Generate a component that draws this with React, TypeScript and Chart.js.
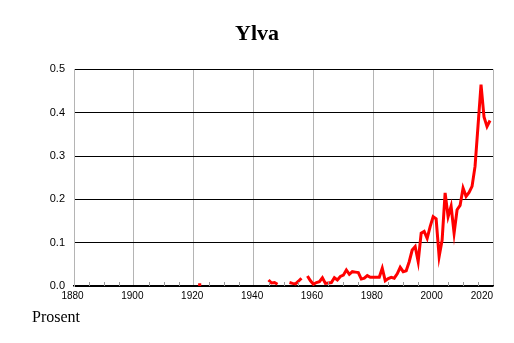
import { useEffect, useRef } from 'react';
import { Chart, registerables } from 'chart.js';

Chart.register(...registerables);

const chartTitle = 'Ylva';
const unitLabel = 'Prosent';

const years = [
  1922, 1923,
  1945, 1946, 1947, 1948, 1949, 1950, 1951, 1952, 1953, 1954, 1955, 1956, 1957, 1958, 1959,
  1960, 1961, 1962, 1963, 1964, 1965, 1966, 1967, 1968, 1969,
  1970, 1971, 1972, 1973, 1974, 1975, 1976, 1977, 1978, 1979,
  1980, 1981, 1982, 1983, 1984, 1985, 1986, 1987, 1988, 1989,
  1990, 1991, 1992, 1993, 1994, 1995, 1996, 1997, 1998, 1999,
  2000, 2001, 2002, 2003, 2004, 2005, 2006, 2007, 2008, 2009,
  2010, 2011, 2012, 2013, 2014, 2015, 2016, 2017, 2018, 2019,
];

const values: (number | null)[] = [
  0.003, null,
  0.014, 0.007, 0.008, 0.004, null, null, null, 0.008, 0.006, 0.005, 0.011, 0.018, null, 0.023, 0.012,
  0.004, 0.008, 0.010, 0.019, 0.006, 0.007, 0.008, 0.019, 0.014, 0.022,
  0.025, 0.037, 0.027, 0.033, 0.032, 0.031, 0.016, 0.018, 0.024, 0.020,
  0.020, 0.020, 0.020, 0.041, 0.012, 0.017, 0.020, 0.018, 0.028, 0.043,
  0.033, 0.035, 0.056, 0.083, 0.091, 0.056, 0.122, 0.126, 0.110, 0.137,
  0.160, 0.155, 0.068, 0.106, 0.215, 0.160, 0.184, 0.122, 0.176, 0.186,
  0.226, 0.207, 0.216, 0.230, 0.276, 0.370, 0.465, 0.390, 0.368, 0.382,
];

const xTickValues = [1880, 1900, 1920, 1940, 1960, 1980, 2000, 2020];
const yTickValues = [0, 0.1, 0.2, 0.3, 0.4, 0.5];
const minorStep = 5;

const overlay = {
  id: 'overlay',
  afterDraw(chart: any) {
    const { ctx, chartArea, scales } = chart;
    const xs = scales.x;
    ctx.save();
    ctx.strokeStyle = '#999';
    ctx.lineWidth = 1;
    const first = xTickValues[0];
    const last = xTickValues[xTickValues.length - 1];
    for (let v = first; v <= last; v += minorStep) {
      if (xTickValues.includes(v)) continue;
      const px = Math.round(xs.getPixelForValue(v)) + 0.5;
      ctx.beginPath();
      ctx.moveTo(px, chartArea.bottom - 4);
      ctx.lineTo(px, chartArea.bottom);
      ctx.stroke();
    }
    ctx.fillStyle = '#000';
    ctx.font = '10px "Liberation Sans", Arial, sans-serif';
    ctx.textBaseline = 'top';
    ctx.textAlign = 'center';
    xTickValues.forEach((v) => {
      const t = String(v);
      const w = ctx.measureText(t).width;
      let cx = xs.getPixelForValue(v) - 1.5;
      cx = Math.min(cx, chartArea.right - w / 2);
      ctx.fillText(t, cx, chartArea.bottom + 5);
    });
    ctx.font = '16px "Liberation Serif", "Times New Roman", serif';
    ctx.textAlign = 'left';
    ctx.textBaseline = 'alphabetic';
    ctx.fillText(unitLabel, 32, 322);
    ctx.restore();
  },
};

export default function App() {
  const ref = useRef<HTMLCanvasElement | null>(null);
  useEffect(() => {
    if (!ref.current) return;
    Chart.defaults.font.family = '"Liberation Sans", Arial, sans-serif';
    const chart = new Chart(ref.current, {
      type: 'line',
      data: {
        labels: years,
        datasets: [
          {
            data: values,
            borderColor: '#ff0000',
            backgroundColor: '#ff0000',
            borderWidth: 3,
            tension: 0,
            spanGaps: false,
            pointStyle: 'rect',
            pointBorderWidth: 0,
            pointRadius: (c: any) => {
              const d = c.dataset.data as (number | null)[];
              const i = c.dataIndex;
              const prev = i > 0 ? d[i - 1] : null;
              const next = i < d.length - 1 ? d[i + 1] : null;
              return prev == null && next == null ? 2.2 : 0;
            },
            pointHoverRadius: 0,
          },
        ],
      },
      options: {
        animation: false,
        responsive: false,
        devicePixelRatio: 1,
        layout: { padding: { left: 0, right: 0, top: 0, bottom: 0 } },
        plugins: {
          legend: { display: false },
          tooltip: { enabled: false },
          title: {
            display: true,
            text: chartTitle,
            color: '#000',
            font: { family: '"Liberation Serif", "Times New Roman", serif', size: 22, weight: 'bold' },
            padding: { top: 21, bottom: 22 },
          },
        },
        scales: {
          x: {
            type: 'linear',
            min: xTickValues[0],
            max: xTickValues[xTickValues.length - 1],
            afterBuildTicks: (s: any) => {
              s.ticks = xTickValues.map((v) => ({ value: v }));
            },
            afterFit: (s: any) => {
              s.height = 57;
            },
            ticks: { display: false },
            grid: { color: '#b4b4b4', lineWidth: 1, drawTicks: false },
            border: { display: true, color: '#000', width: 1.5 },
          },
          y: {
            min: 0,
            max: 0.5,
            afterBuildTicks: (s: any) => {
              s.ticks = yTickValues.map((v) => ({ value: v }));
            },
            afterFit: (s: any) => {
              s.width = 74;
            },
            ticks: {
              color: '#000',
              padding: 9,
              font: { size: 11 },
              callback: (v: any) => Number(v).toFixed(1),
            },
            grid: { color: '#000', lineWidth: 1, drawTicks: false },
            border: { display: true, color: '#b4b4b4' },
          },
          yRight: {
            position: 'right',
            min: 0,
            max: 0.5,
            afterFit: (s: any) => {
              s.width = 21;
            },
            ticks: { display: false },
            grid: { display: false, drawTicks: false },
            border: { display: false },
          },
        },
      },
      plugins: [overlay],
    });
    return () => chart.destroy();
  }, []);
  return (
    <div style={{ position: 'absolute', left: 0, top: 0, width: 514, height: 343 }}>
      <canvas ref={ref} width={514} height={343} />
    </div>
  );
}
